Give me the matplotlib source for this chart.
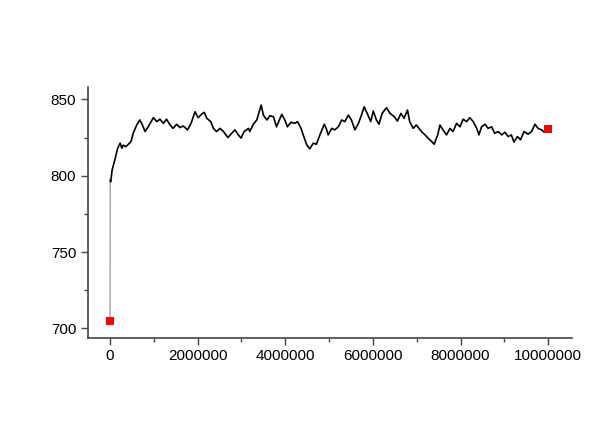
import matplotlib
matplotlib.use("Agg")
import matplotlib.pyplot as plt
from matplotlib.ticker import MultipleLocator

plt.rcParams['font.family'] = ['Liberation Sans', 'DejaVu Sans']

# step (in millions) and value
steps_m = [0.0, 0.005, 0.015, 0.05, 0.11, 0.175, 0.23, 0.27, 0.30, 0.36, 0.42, 0.48,
           0.53, 0.61, 0.68, 0.74, 0.80, 0.87, 0.99, 1.07, 1.14, 1.22, 1.29, 1.37,
           1.44, 1.52, 1.60, 1.67, 1.77, 1.85, 1.94, 2.01, 2.09, 2.15, 2.21, 2.30,
           2.36, 2.43, 2.51, 2.59, 2.69, 2.78, 2.85, 2.93, 2.99, 3.06, 3.16, 3.19,
           3.27, 3.35, 3.45, 3.50, 3.58, 3.65, 3.73, 3.80, 3.92, 3.99, 4.05, 4.13,
           4.22, 4.28, 4.36, 4.41, 4.49, 4.56, 4.64, 4.71, 4.79, 4.89, 4.94, 4.98,
           5.06, 5.13, 5.21, 5.29, 5.36, 5.44, 5.51, 5.59, 5.67, 5.74, 5.80, 5.88,
           5.95, 6.01, 6.08, 6.14, 6.21, 6.31, 6.39, 6.49, 6.56, 6.64, 6.71, 6.79,
           6.84, 6.92, 6.99, 7.11, 7.19, 7.26, 7.34, 7.40, 7.45, 7.48, 7.53, 7.60,
           7.68, 7.76, 7.83, 7.91, 7.99, 8.06, 8.14, 8.21, 8.29, 8.37, 8.42, 8.48,
           8.56, 8.63, 8.71, 8.78, 8.86, 8.94, 9.01, 9.09, 9.16, 9.22, 9.30, 9.37,
           9.45, 9.54, 9.62, 9.70, 9.77, 9.85, 9.91, 9.97, 10.0]
values = [705.0, 797.0, 796.0, 804.0, 810.4, 818.0, 821.3, 818.0, 820.0, 819.0, 820.6, 822.4,
          827.8, 833.2, 836.5, 833.2, 828.9, 832.0, 838.0, 835.4, 837.0, 834.3, 837.0, 833.2,
          831.0, 833.7, 831.5, 832.6, 830.0, 834.3, 841.9, 838.0, 840.2, 841.5, 837.6, 835.4,
          831.0, 828.9, 831.0, 828.9, 825.0, 827.8, 830.0, 826.7, 824.6, 828.9, 831.0, 828.9,
          833.7, 836.5, 846.3, 839.7, 836.5, 839.3, 838.6, 832.0, 840.2, 836.5, 832.0, 835.0,
          834.3, 835.4, 831.0, 826.7, 820.2, 817.6, 821.3, 820.6, 826.7, 833.7, 830.5, 826.7,
          831.0, 830.0, 832.0, 836.5, 835.4, 839.7, 836.5, 830.0, 834.3, 839.7, 845.1, 840.2,
          835.4, 842.3, 836.5, 833.7, 840.8, 844.5, 840.8, 838.6, 835.8, 840.8, 837.6, 843.0,
          835.4, 831.0, 833.2, 828.9, 826.7, 824.6, 822.4, 820.6, 824.6, 826.7, 833.2, 830.0,
          826.7, 831.0, 828.9, 834.3, 832.0, 837.0, 835.4, 838.0, 835.4, 831.0, 826.7, 832.0,
          833.7, 831.0, 832.0, 827.8, 828.9, 826.7, 828.5, 825.6, 826.7, 822.0, 825.6, 823.5,
          828.9, 827.2, 828.9, 833.7, 831.0, 830.0, 828.5, 829.5, 830.5]

# the two highlighted points (start and end)
marked_steps = [0, 10000000]
marked_values = [705.0, 830.5]

steps = [s * 1e6 for s in steps_m]

fig = plt.figure(figsize=(6.0, 4.23), dpi=100)
ax = fig.add_axes([0.1467, 0.2017, 0.8063, 0.5923])

# first jump drawn thin (shows up grey in the original), the rest black
ax.plot(steps[:2], values[:2], color='#8a8a8a', linewidth=0.8)
ax.plot(steps[1:], values[1:], color='black', linewidth=1.2)
ax.plot(marked_steps, marked_values, linestyle='none', marker='s',
        markersize=6, color='#ff0000', markeredgewidth=0)

ax.set_xlim(-0.502e6, 10.54e6)
ax.set_ylim(693.9, 858)

ax.xaxis.set_major_locator(MultipleLocator(2000000))
ax.xaxis.set_minor_locator(MultipleLocator(1000000))
ax.yaxis.set_major_locator(MultipleLocator(50))
ax.yaxis.set_minor_locator(MultipleLocator(25))
ax.ticklabel_format(style='plain', useOffset=False)

for side in ['top', 'right']:
    ax.spines[side].set_visible(False)
for side in ['left', 'bottom']:
    ax.spines[side].set_color('#444444')
    ax.spines[side].set_linewidth(1.2)

ax.tick_params(which='major', length=5, width=1.0, color='#444444', labelsize=11)
ax.tick_params(which='minor', length=3, width=1.0, color='#444444')

fig.savefig('out.png', dpi=100)
